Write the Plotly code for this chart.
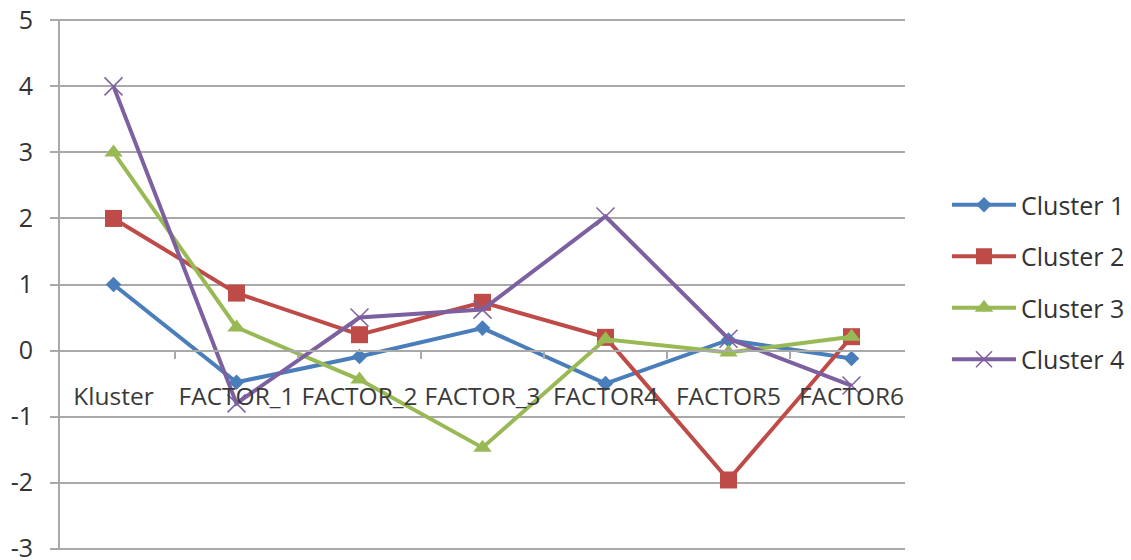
import plotly.graph_objects as go

categories = ["Kluster", "FACTOR_1", "FACTOR_2", "FACTOR_3", "FACTOR4", "FACTOR5", "FACTOR6"]
cluster1 = [1.0, -0.48, -0.09, 0.34, -0.5, 0.16, -0.12]
cluster2 = [2.0, 0.87, 0.24, 0.73, 0.2, -1.96, 0.21]
cluster3 = [3.0, 0.35, -0.44, -1.47, 0.17, -0.03, 0.21]
cluster4 = [4.0, -0.8, 0.5, 0.62, 2.03, 0.18, -0.53]
series_names = ["Cluster 1", "Cluster 2", "Cluster 3", "Cluster 4"]
y_ticks = [5, 4, 3, 2, 1, 0, -1, -2, -3]

FONT = "Open Sans"
TEXT = "#3a3a3a"
GRID = "#a9a9a9"

styles = [
    dict(color="#4A7EBB", symbol="diamond", size=12, mline=0),
    dict(color="#BE4B48", symbol="square", size=17, mline=0),
    dict(color="#98B954", symbol="triangle-up", size=16, mline=0),
    dict(color="#7D60A0", symbol="x-thin-open", size=18, mline=1.5),
]

fig = go.Figure()
for name, vals, st in zip(series_names, [cluster1, cluster2, cluster3, cluster4], styles):
    fig.add_trace(go.Scatter(
        x=categories, y=vals, name=name, mode="lines+markers",
        legendgroup=name,
        line=dict(color=st["color"], width=4),
        marker=dict(symbol=st["symbol"], size=st["size"], color=st["color"],
                    line=dict(width=st["mline"], color=st["color"])),
    ))

fig.update_layout(
    width=1131, height=560,
    margin=dict(l=60, r=226, t=19, b=10, autoexpand=False),
    paper_bgcolor="white", plot_bgcolor="white",
    font=dict(family=FONT, size=25, color=TEXT),
    showlegend=True,
    legend=dict(
        xref="paper", x=(947 - 60) / 845, xanchor="left",
        yref="container", y=1 - 182 / 560, yanchor="top",
        itemwidth=64, tracegroupgap=16,
        font=dict(family=FONT, size=25, color="#333333"),
        bgcolor="rgba(0,0,0,0)",
    ),
    xaxis=dict(
        type="category", categoryorder="array", categoryarray=categories,
        anchor="free", position=3 / 8, automargin=False,
        showline=True, linecolor=GRID, linewidth=2,
        showgrid=False, zeroline=False,
        ticks="outside", tickson="boundaries", ticklen=7, tickcolor=GRID, tickwidth=1.5,
        ticklabelstandoff=24, tickangle=0,
        tickfont=dict(family=FONT, size=24.5, color=TEXT),
    ),
    yaxis=dict(
        range=[-3.02, 5.02], tickvals=y_ticks, ticktext=[str(v) for v in y_ticks],
        automargin=False, ticklabeloverflow="allow",
        showline=True, linecolor=GRID, linewidth=2,
        showgrid=True, gridcolor=GRID, gridwidth=2,
        zeroline=False,
        ticks="outside", ticklen=8, tickcolor=GRID, tickwidth=2,
        ticklabelstandoff=12,
        tickfont=dict(family=FONT, size=25, color="#333333"),
    ),
)

fig.write_html("out.html")
